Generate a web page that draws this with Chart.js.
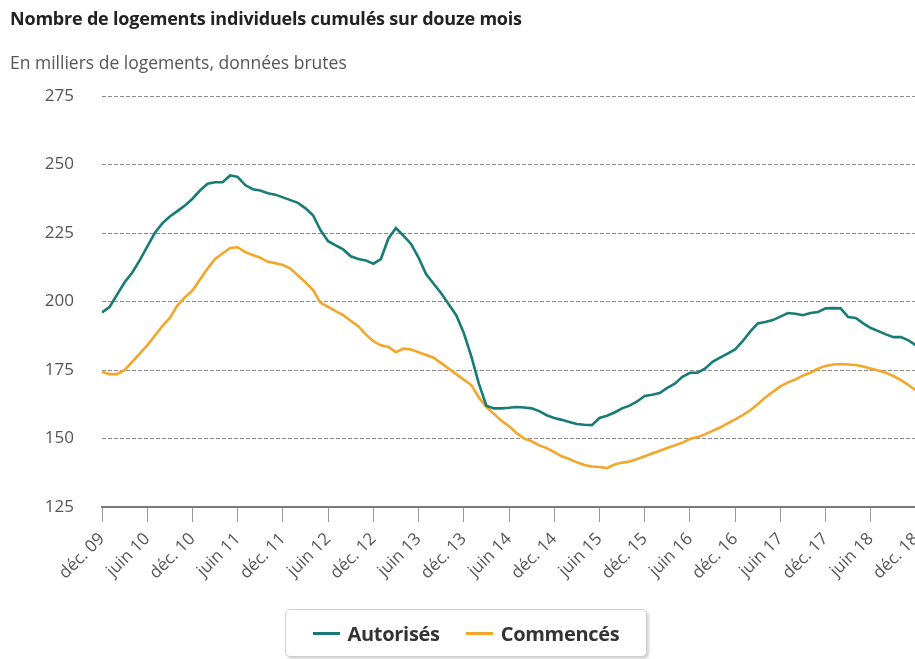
<!DOCTYPE html>
<html><head><meta charset="utf-8">
<script src="https://cdn.jsdelivr.net/npm/chart.js@4.4.1/dist/chart.umd.min.js"></script>
<style>
html,body{margin:0;padding:0;background:#fff;overflow:hidden;width:915px;height:659px;}
#wrap{position:absolute;left:0;top:0;width:930px;height:659px;}
#title{position:absolute;left:10px;top:6px;font:bold 18px "Open Sans",sans-serif;color:#222;white-space:nowrap;letter-spacing:-0.2px;}
#subtitle{position:absolute;left:10px;top:50px;font:17.5px "Open Sans",sans-serif;color:#555;white-space:nowrap;}
#legend{position:absolute;left:285px;top:609px;width:362px;height:48px;box-sizing:border-box;border:1px solid #cfcfcf;border-radius:5px;box-shadow:2px 2px 3px rgba(0,0,0,0.18);background:#fff;display:flex;align-items:center;justify-content:center;font:bold 20px "Open Sans",sans-serif;color:#333;letter-spacing:-0.3px;}
#legend .item{display:flex;align-items:center;margin:0 13px;}
#legend .sw{display:inline-block;width:27px;height:3px;margin-right:8px;}
</style></head>
<body>
<div id="wrap"><canvas id="c" width="930" height="659"></canvas></div>
<div id="title">Nombre de logements individuels cumulés sur douze mois</div>
<div id="subtitle">En milliers de logements, données brutes</div>
<div id="legend"></div>
<script>
// Tick labels (every 6 months, from déc. 09 to déc. 18)
const tickLabels = ['déc. 09','juin 10','déc. 10','juin 11','déc. 11','juin 12','déc. 12','juin 13','déc. 13','juin 14','déc. 14','juin 15','déc. 15','juin 16','déc. 16','juin 17','déc. 17','juin 18','déc. 18'];
const seriesNames = ['Autorisés','Commencés'];
const seriesColors = ['#177c76','#f4a62a'];
// Monthly values, déc. 2009 -> déc. 2018 (thousands of dwellings)
const autorises = [
196,198,202.5,207,210.5,215,220,225,228.5,231,233,235,
237.5,240.5,243,243.5,243.5,246,245.5,242.5,241,240.5,239.5,239,
238,237,236,234,231.5,226,222,220.5,219,216.5,215.5,215,
213.8,215.5,223,226.8,224,221,216,210,206.5,203,199,195,
188.5,180,170,162,161,161,161.2,161.5,161.3,161,160,158.5,
157.5,156.8,156,155.3,155,154.9,157.5,158.3,159.5,161,162,163.5,
165.5,166,166.6,168.5,170,172.5,174,174,175.5,178,179.5,181,
182.5,185.5,189,192,192.5,193.2,194.5,195.8,195.5,195,195.8,196.2,
197.5,197.6,197.5,194.3,194,192,190.3,189.2,188,187,187,185.8,
184];
const commences = [
174.3,173.5,173.5,175,178,181,184,187.5,191,194,198.5,201.5,
204,208,212,215.5,217.5,219.5,219.8,218,217,216,214.5,214,
213.3,212,209.5,207,204.2,199.5,198,196.5,195,193,191,188,
185.5,184,183.4,181.5,182.8,182.5,181.5,180.5,179.5,177.5,175.5,173.5,
171.5,169.5,165,161.5,159,156.5,154.5,152,150,149,147.5,146.5,
145,143.5,142.5,141.3,140.3,139.8,139.6,139.2,140.5,141.2,141.6,142.5,
143.5,144.5,145.5,146.5,147.5,148.5,149.8,150.5,151.5,152.8,154,155.5,
157,158.5,160.3,162.5,165,167,169,170.5,171.5,173,174,175.5,
176.5,177,177.2,177,176.8,176.3,175.5,174.8,174,172.8,171.3,169.5,
167.5];

function toPoints(arr){ return arr.map((v,i)=>({x:i,y:v})); }

const lg = document.getElementById('legend');
seriesNames.forEach((n,k)=>{
  const d=document.createElement('span'); d.className='item';
  const s=document.createElement('span'); s.className='sw'; s.style.background=seriesColors[k];
  d.appendChild(s); d.appendChild(document.createTextNode(n)); lg.appendChild(d);
});

new Chart(document.getElementById('c'), {
  type:'line',
  data:{datasets:[
    {label:seriesNames[0], data:toPoints(autorises), borderColor:seriesColors[0], borderWidth:2.6, pointRadius:0, fill:false, tension:0},
    {label:seriesNames[1], data:toPoints(commences), borderColor:seriesColors[1], borderWidth:2.6, pointRadius:0, fill:false, tension:0}
  ]},
  options:{
    responsive:false, animation:false,
    layout:{padding:{left:10, top:96, right:14, bottom:0}},
    plugins:{legend:{display:false}, title:{display:false}, tooltip:{enabled:false}},
    scales:{
      x:{type:'linear', min:0, max:tickLabels.length*6-6,
        ticks:{stepSize:6, autoSkip:false, maxRotation:45, minRotation:45, color:'#555',
          font:{family:'Open Sans', size:17}, padding:7,
          callback:(v)=> (v%6===0 ? tickLabels[v/6] : null)},
        grid:{drawOnChartArea:false, drawTicks:true, tickLength:15, color:'#9a9a9a'},
        border:{display:true, color:'#7a7a7a', width:2},
        afterFit:(s)=>{ s.height = 152; s.paddingRight = 0; s.paddingLeft = 0; }
      },
      y:{min:125, max:275,
        ticks:{stepSize:25, color:'#555', font:{family:'Open Sans', size:17}, padding:28},
        grid:{drawTicks:false, color:'#8c8c8c', lineWidth:1},
        border:{display:false, dash:[4,2]},
        afterFit:(s)=>{ s.width = 92; }
      }
    }
  }
});
</script>
</body></html>
